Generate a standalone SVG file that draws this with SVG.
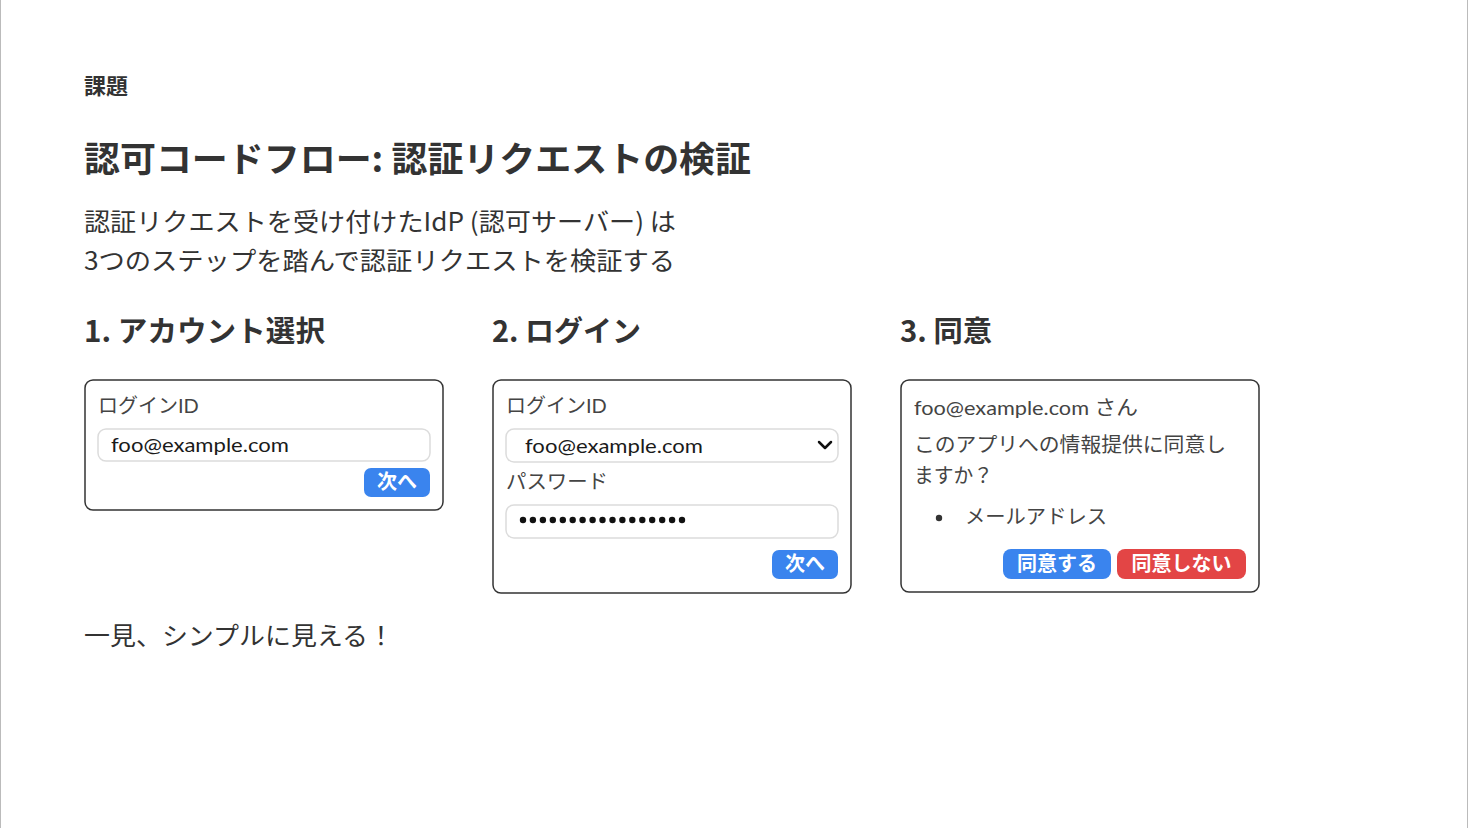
<svg xmlns="http://www.w3.org/2000/svg" width="1470" height="828" viewBox="0 0 1470 828">
<style>
  .t { font-family: "Noto Sans CJK JP", "Noto Sans", sans-serif; fill: #333; }
  .b { font-weight: bold; }
  .ui { font-family: "Lato", "Noto Sans CJK JP", sans-serif; font-size: 20px; fill: #444; }
  .val { fill: #1a1a1a; }
  .card { fill: #fff; stroke: #333; stroke-width: 1.5; }
  .field { fill: #fff; stroke: #dcdcdc; stroke-width: 1.5; }
  .btn { fill: #3a84ee; }
  .btnr { fill: #e34545; }
  .bt { font-family: "Noto Sans CJK JP", sans-serif; font-size: 20px; font-weight: bold; fill: #fff; text-anchor: middle; }
</style>
<rect x="0" y="0" width="1470" height="828" fill="#fff"/>
<line x1="0.5" y1="0" x2="0.5" y2="828" stroke="#bbb" stroke-width="1"/>
<line x1="1467.5" y1="0" x2="1467.5" y2="828" stroke="#bbb" stroke-width="1"/>

<g id="header">
  <text class="t b" x="84" y="94" font-size="22">課題</text>
  <text class="t b" x="84" y="172" font-size="35" textLength="667" lengthAdjust="spacingAndGlyphs">認可コードフロー: 認証リクエストの検証</text>
  <text class="t" x="84" y="231" font-size="25" textLength="592" lengthAdjust="spacingAndGlyphs">認証リクエストを受け付けたIdP (認可サーバー) は</text>
  <text class="t" x="84" y="270" font-size="25" textLength="591" lengthAdjust="spacingAndGlyphs">3つのステップを踏んで認証リクエストを検証する</text>
</g>

<g id="step1">
  <text class="t b" x="84" y="342" font-size="29" textLength="241" lengthAdjust="spacingAndGlyphs">1. アカウント選択</text>
  <rect class="card" x="85" y="380" width="358" height="130" rx="8"/>
  <text class="ui" x="98" y="413">ログインID</text>
  <rect class="field" x="98" y="429" width="332" height="32" rx="8"/>
  <text class="ui val" x="111" y="452" textLength="178" lengthAdjust="spacingAndGlyphs">foo@example.com</text>
  <rect class="btn" x="364" y="468" width="66" height="29" rx="7"/>
  <text class="bt" x="397" y="489">次へ</text>
</g>

<g id="step2">
  <text class="t b" x="492" y="342" font-size="29" textLength="149" lengthAdjust="spacingAndGlyphs">2. ログイン</text>
  <rect class="card" x="493" y="380" width="358" height="213" rx="8"/>
  <text class="ui" x="506" y="413">ログインID</text>
  <rect class="field" x="506" y="429" width="332" height="33" rx="8"/>
  <text class="ui val" x="525" y="453" textLength="178" lengthAdjust="spacingAndGlyphs">foo@example.com</text>
  <path d="M819 442 L825 448 L831 442" fill="none" stroke="#111" stroke-width="2.5" stroke-linecap="round" stroke-linejoin="round"/>
  <text class="ui" x="506" y="489" textLength="102" lengthAdjust="spacingAndGlyphs">パスワード</text>
  <rect class="field" x="506" y="505" width="332" height="33" rx="8"/>
  <g fill="#111">
    <circle cx="523" cy="520" r="3.2"/><circle cx="532.9" cy="520" r="3.2"/><circle cx="542.9" cy="520" r="3.2"/><circle cx="552.8" cy="520" r="3.2"/>
    <circle cx="562.8" cy="520" r="3.2"/><circle cx="572.7" cy="520" r="3.2"/><circle cx="582.6" cy="520" r="3.2"/><circle cx="592.6" cy="520" r="3.2"/>
    <circle cx="602.5" cy="520" r="3.2"/><circle cx="612.5" cy="520" r="3.2"/><circle cx="622.4" cy="520" r="3.2"/><circle cx="632.3" cy="520" r="3.2"/>
    <circle cx="642.3" cy="520" r="3.2"/><circle cx="652.2" cy="520" r="3.2"/><circle cx="662.2" cy="520" r="3.2"/><circle cx="672.1" cy="520" r="3.2"/>
    <circle cx="682" cy="520" r="3.2"/>
  </g>
  <rect class="btn" x="772" y="550" width="66" height="29" rx="7"/>
  <text class="bt" x="805" y="571">次へ</text>
</g>

<g id="step3">
  <text class="t b" x="900" y="342" font-size="29" textLength="92" lengthAdjust="spacingAndGlyphs">3. 同意</text>
  <rect class="card" x="901" y="380" width="358" height="212" rx="8"/>
  <text class="ui" x="914" y="415" textLength="224" lengthAdjust="spacingAndGlyphs">foo@example.com さん</text>
  <text class="ui" x="914" y="452" textLength="312" lengthAdjust="spacingAndGlyphs">このアプリへの情報提供に同意し</text>
  <text class="ui" x="914" y="483" textLength="79" lengthAdjust="spacingAndGlyphs">ますか？</text>
  <circle cx="939" cy="518" r="3.2" fill="#333"/>
  <text class="ui" x="965" y="524" textLength="142" lengthAdjust="spacingAndGlyphs">メールアドレス</text>
  <rect class="btn" x="1003" y="549" width="108" height="30" rx="8"/>
  <text class="bt" x="1057" y="571">同意する</text>
  <rect class="btnr" x="1117" y="549" width="129" height="30" rx="8"/>
  <text class="bt" x="1181.5" y="571">同意しない</text>
</g>

<g id="footer">
  <text class="t" x="84" y="645" font-size="25" textLength="310" lengthAdjust="spacingAndGlyphs">一見、シンプルに見える！</text>
</g>
<g id="connectors"/>
</svg>
